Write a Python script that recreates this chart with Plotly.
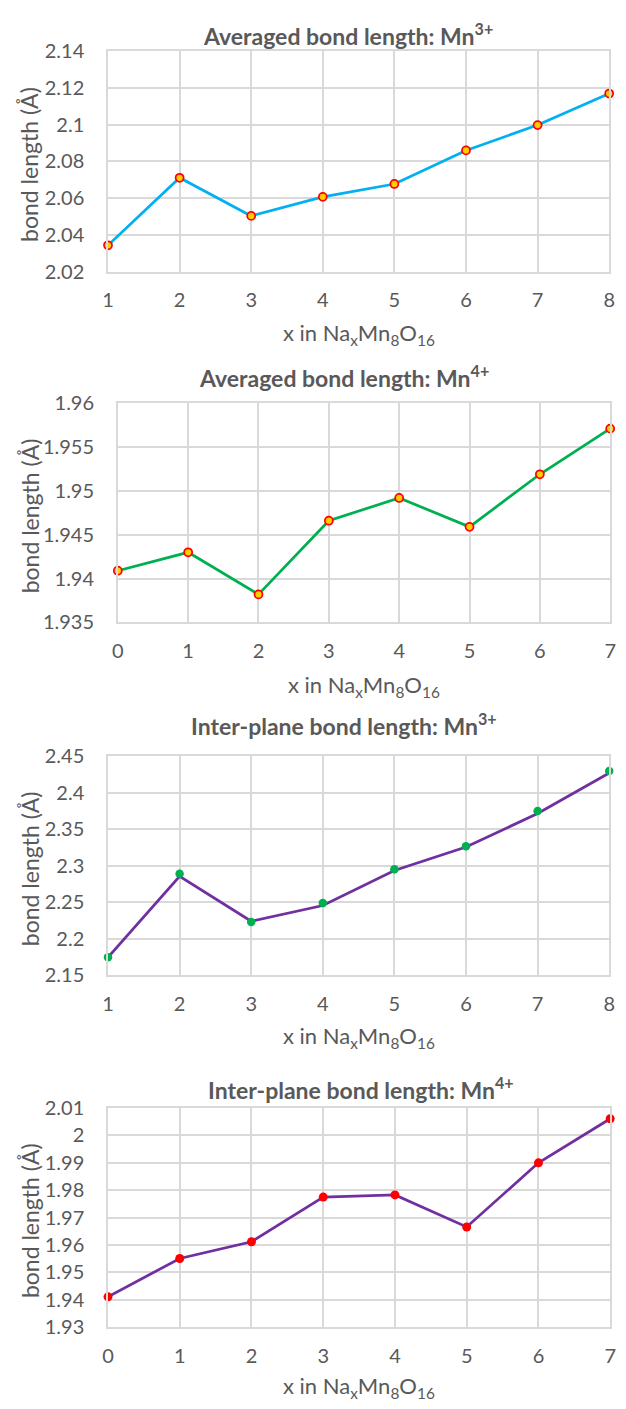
import plotly.graph_objects as go

W, H = 626, 1409

# ---------------- data ----------------
x_mn3 = [1, 2, 3, 4, 5, 6, 7, 8]
x_mn4 = [0, 1, 2, 3, 4, 5, 6, 7]

avg_mn3 = [2.0343, 2.0711, 2.0503, 2.0607, 2.0677, 2.0860, 2.0998, 2.1170]
avg_mn4 = [1.9409, 1.9430, 1.9382, 1.9466, 1.9492, 1.9459, 1.9519, 1.9571]

inter_mn3_pts = [2.1747, 2.2890, 2.2231, 2.2491, 2.2953, 2.3267, 2.3750, 2.4298]
inter_mn3_line = [2.1747, 2.2855, 2.2240, 2.2455, 2.2935, 2.3255, 2.3715, 2.4270]
inter_mn4 = [1.9411, 1.9551, 1.9612, 1.9775, 1.9783, 1.9666, 1.9900, 2.0061]

yt1 = [2.02, 2.04, 2.06, 2.08, 2.10, 2.12, 2.14]
yt1_text = ["2.02", "2.04", "2.06", "2.08", "2.1", "2.12", "2.14"]
yt2 = [1.935, 1.94, 1.945, 1.95, 1.955, 1.96]
yt2_text = ["1.935", "1.94", "1.945", "1.95", "1.955", "1.96"]
yt3 = [2.15, 2.2, 2.25, 2.3, 2.35, 2.4, 2.45]
yt3_text = ["2.15", "2.2", "2.25", "2.3", "2.35", "2.4", "2.45"]
yt4 = [1.93, 1.94, 1.95, 1.96, 1.97, 1.98, 1.99, 2.0, 2.01]
yt4_text = ["1.93", "1.94", "1.95", "1.96", "1.97", "1.98", "1.99", "2", "2.01"]

titles = [
    "Averaged bond length: Mn<sup>3+</sup>",
    "Averaged bond length: Mn<sup>4+</sup>",
    "Inter-plane bond length: Mn<sup>3+</sup>",
    "Inter-plane bond length: Mn<sup>4+</sup>",
]
xtitle = "x in Na<sub>x</sub>Mn<sub>8</sub>O<sub>16</sub>"
ytitle = "bond length (Å)"

# ---------------- style ----------------
FONT = "Lato"
TXT = "#595959"
GRID = "#d9d9d9"
BLUE = "#00B0F0"
GREEN = "#00B050"
PURPLE = "#7030A0"
RED = "#FF0000"
YELLOW = "#FFCC00"


def py(p):
    return 1 - p / H


def px(p):
    return p / W


# pixel layout of each panel: (left, right, top, bottom, title_x, title_y, xtitle_y)
panels = [
    (104, 615, 39, 263, 349, 22, 327),
    (114, 616, 397, 620, 345, 370, 685),
    (104, 615, 756, 979, 345, 724, 1042),
    (104, 616, 1114, 1337, 362, 1094, 1398),
]

fig = go.Figure()

# traces
fig.add_trace(go.Scatter(x=x_mn3, y=avg_mn3, mode="lines+markers",
                         line=dict(color=BLUE, width=2.75),
                         marker=dict(size=8, color=YELLOW, line=dict(color=RED, width=1.75)),
                         xaxis="x", yaxis="y", cliponaxis=False, showlegend=False))
fig.add_trace(go.Scatter(x=x_mn4, y=avg_mn4, mode="lines+markers",
                         line=dict(color=GREEN, width=2.75),
                         marker=dict(size=8, color=YELLOW, line=dict(color=RED, width=1.75)),
                         xaxis="x2", yaxis="y2", cliponaxis=False, showlegend=False))
fig.add_trace(go.Scatter(x=x_mn3, y=inter_mn3_line, mode="lines",
                         line=dict(color=PURPLE, width=2.75),
                         xaxis="x3", yaxis="y3", cliponaxis=False, showlegend=False))
fig.add_trace(go.Scatter(x=x_mn3, y=inter_mn3_pts, mode="markers",
                         marker=dict(size=8.5, color=GREEN),
                         xaxis="x3", yaxis="y3", cliponaxis=False, showlegend=False))
fig.add_trace(go.Scatter(x=x_mn4, y=inter_mn4, mode="lines+markers",
                         line=dict(color=PURPLE, width=2.75),
                         marker=dict(size=9, color=RED),
                         xaxis="x4", yaxis="y4", cliponaxis=False, showlegend=False))

yticks = [(yt1, yt1_text), (yt2, yt2_text), (yt3, yt3_text), (yt4, yt4_text)]
xdata = [x_mn3, x_mn4, x_mn3, x_mn4]

layout = dict(
    width=W, height=H,
    margin=dict(l=0, r=0, t=0, b=0),
    paper_bgcolor="white", plot_bgcolor="white",
    font=dict(family=FONT, color=TXT),
    showlegend=False,
)
annotations = []
for i, (l, r, t, b, tx, ty, xty) in enumerate(panels):
    sfx = "" if i == 0 else str(i + 1)
    tv, tt = yticks[i]
    xs = xdata[i]
    layout["xaxis" + sfx] = dict(
        domain=[px(l), px(r)], anchor="y" + sfx,
        range=[min(xs), max(xs)], tickmode="array", tickvals=xs,
        ticktext=[str(v) for v in xs],
        showgrid=True, gridcolor=GRID, gridwidth=1.5,
        showline=True, linecolor=GRID, linewidth=1.5, mirror=True,
        zeroline=False, ticks="outside", ticklen=10, tickcolor="rgba(0,0,0,0)",
        tickfont=dict(size=20, color=TXT, family=FONT),
    )
    layout["yaxis" + sfx] = dict(
        domain=[py(b), py(t)], anchor="x" + sfx,
        range=[tv[0], tv[-1]], tickmode="array", tickvals=tv, ticktext=tt,
        showgrid=True, gridcolor=GRID, gridwidth=1.5,
        showline=True, linecolor=GRID, linewidth=1.5, mirror=True,
        zeroline=False, ticks="outside", ticklen=18, tickcolor="rgba(0,0,0,0)",
        tickfont=dict(size=20, color=TXT, family=FONT),
    )
    annotations.append(dict(
        text="<b>" + titles[i] + "</b>", x=px(tx), y=py(ty),
        xref="paper", yref="paper", xanchor="center", yanchor="middle",
        showarrow=False, font=dict(size=23, color=TXT, family=FONT)))
    annotations.append(dict(
        text=xtitle, x=px((l + r) / 2), y=py(xty),
        xref="paper", yref="paper", xanchor="center", yanchor="middle",
        showarrow=False, font=dict(size=22, color=TXT, family=FONT)))
    annotations.append(dict(
        text=ytitle, x=px(24), y=py((t + b) / 2 + 3), textangle=-90,
        xref="paper", yref="paper", xanchor="center", yanchor="middle",
        showarrow=False, font=dict(size=23, color=TXT, family=FONT)))

layout["annotations"] = annotations
fig.update_layout(**layout)
fig.write_html("out.html")
